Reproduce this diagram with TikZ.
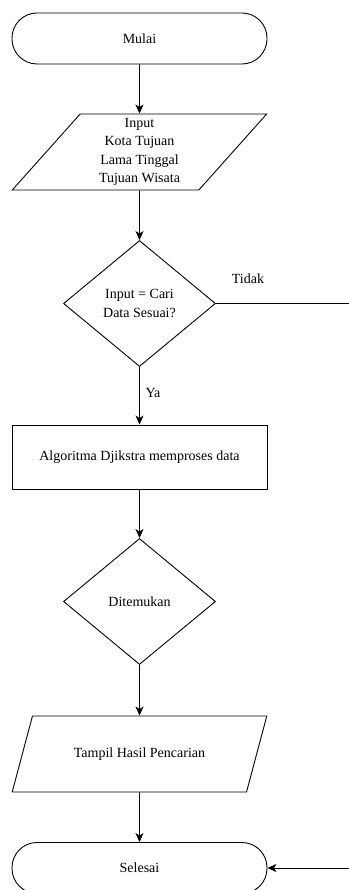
\documentclass[tikz,border=0pt]{standalone}
\usepackage{fontspec}
\setmainfont{Liberation Serif}
\usetikzlibrary{shapes.geometric,arrows.meta,positioning}

\tikzset{
  terminal/.style={draw, rectangle, rounded corners=25pt, minimum width=255pt, minimum height=51pt},
  io/.style={draw, trapezium, trapezium left angle=56, trapezium right angle=124,
    trapezium stretches=true, minimum width=255pt, minimum height=76pt, align=center},
  process/.style={draw, rectangle, minimum width=255pt, minimum height=64pt},
  decision/.style={draw, diamond, minimum width=152pt, minimum height=126pt, inner sep=0pt, align=center}
}

\begin{document}
\begin{tikzpicture}[node distance=2cm, on grid, auto, line width=0.9pt,
    >={Stealth[length=9pt,width=8pt,inset=2.5pt]}, font=\fontsize{14}{18.5}\selectfont]
        \useasboundingbox (-139.5pt,38.5pt) rectangle (208.5pt,-851.5pt);

        \node[terminal] (mulai)                          {Mulai};
        \node[io]       (input)   [below=113.5pt of mulai]   {Input\\Kota Tujuan\\Lama Tinggal\\Tujuan Wisata};
        \node[decision] (cek)     [below=151.5pt of input]   {Input = Cari\\Data Sesuai?};
        \node[process]  (proses)  [below=153.5pt of cek]     {Algoritma Djikstra memproses data};
        \node[decision] (temu)    [below=144.5pt of proses]  {Ditemukan};
        \node[io]       (hasil)   [below=152.5pt of temu]    {Tampil Hasil Pencarian};
        \node[terminal] (selesai) [below=114pt of hasil]     {Selesai};

        \node (tidak) [right=32pt of cek.east, yshift=24.5pt, anchor=center]   {Tidak};
        \node (ya)    [below=26pt of cek.south, xshift=13.5pt, anchor=center]  {Ya};
        % the way back runs just off the page, so only its ends show
        \coordinate [right=140pt of cek.east] (balik);

        \draw[->] (mulai)  -- (input);
        \draw[->] (input)  -- (cek);
        \draw[->] (cek)    -- (proses);
        \draw[->] (proses) -- (temu);
        \draw[->] (temu)   -- (hasil);
        \draw[->] (hasil)  -- (selesai);
        \draw[->] (cek.east) -- (balik) |- (selesai.east);

    \end{tikzpicture}
\end{document}
